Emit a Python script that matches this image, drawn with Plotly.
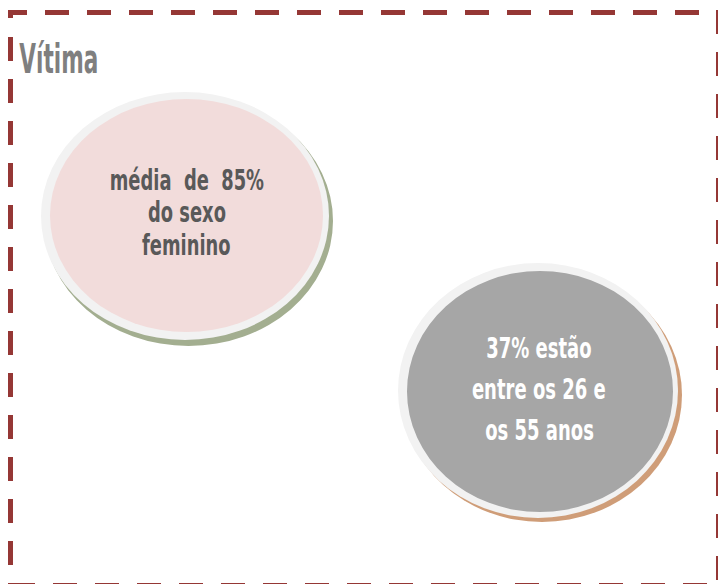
import plotly.graph_objects as go

# ---- content ----
title_text = "Vítima"
bubble1_lines = ["média\u00a0\u00a0de\u00a0\u00a085%", "do sexo", "feminino"]
bubble2_lines = ["37% estão", "entre os 26 e", "os 55 anos"]

# ---- styling ----
W, H = 718, 584
FONT = "Liberation Sans Narrow, DejaVu Sans, sans-serif"
BORDER = "#953735"

fig = go.Figure()

shapes = []


def ellipse(box, color):
    x0, y0, x1, y1 = box
    return dict(type="circle", xref="x", yref="y", x0=x0, y0=y0, x1=x1, y1=y1,
                fillcolor=color, line=dict(width=0), layer="below")


# bubble 1 (pink) : shadow, ring, fill
shapes.append(ellipse((44, 96, 333, 346), "#a3ae90"))
shapes.append(ellipse((41, 92, 329, 340), "#f2f2f2"))
shapes.append(ellipse((50, 99, 323, 332), "#f2dcdb"))
# bubble 2 (gray)
shapes.append(ellipse((402, 268, 682, 522), "#cf9d78"))
shapes.append(ellipse((398, 263, 678, 518), "#f2f2f2"))
shapes.append(ellipse((407, 271, 673, 512), "#a6a6a6"))


def dash_pattern(first_dash, first_gap=18, dash=24, gap=18, n=25):
    parts = [f"{first_dash}px", f"{first_gap}px"]
    for _ in range(n):
        parts += [f"{dash}px", f"{gap}px"]
    return ",".join(parts)


def border_line(x0, y0, x1, y1, pattern):
    return dict(type="line", xref="x", yref="y", x0=x0, y0=y0, x1=x1, y1=y1,
                line=dict(color=BORDER, width=5, dash=pattern), layer="above")


shapes.append(border_line(8, 12.5, 722, 12.5, dash_pattern(19)))       # top
shapes.append(border_line(10.5, 10, 10.5, 590, dash_pattern(8, 19)))   # left
shapes.append(border_line(718.5, 10, 718.5, 590, dash_pattern(24)))    # right
shapes.append(border_line(8, 585.5, 722, 585.5, dash_pattern(27)))     # bottom

annotations = []
s0 = 40
annotations.append(dict(text=title_text, x=10, y=73 - 0.35 * s0, xref="x", yref="y",
                        xanchor="left", yanchor="middle", showarrow=False,
                        font=dict(family=FONT, size=s0, color="#7f7f7f", weight="bold")))

s1, b1, sp1 = 28, 190, 32.5
for i, line in enumerate(bubble1_lines):
    annotations.append(dict(text=line, x=186.5, y=b1 + i * sp1 - 0.35 * s1, xref="x", yref="y",
                            xanchor="center", yanchor="middle", showarrow=False,
                            font=dict(family=FONT, size=s1, color="#595959", weight="bold")))

s2, b2, sp2 = 29, 358, 41
for i, line in enumerate(bubble2_lines):
    annotations.append(dict(text=line, x=539, y=b2 + i * sp2 - 0.35 * s2, xref="x", yref="y",
                            xanchor="center", yanchor="middle", showarrow=False,
                            font=dict(family=FONT, size=s2, color="#ffffff", weight="bold")))

fig.update_layout(
    width=W, height=H, autosize=False,
    margin=dict(l=0, r=0, t=0, b=0, pad=0),
    paper_bgcolor="white", plot_bgcolor="white",
    xaxis=dict(range=[0, W], visible=False, fixedrange=True),
    yaxis=dict(range=[H, 0], visible=False, fixedrange=True),
    shapes=shapes, annotations=annotations, showlegend=False,
)

css = ".annotation-text{font-stretch:condensed !important;transform-box:fill-box;}"
css += ".annotation[data-index=\"0\"] .annotation-text{transform-origin:0% 50%;transform:scaleX(0.6);}"
for k in (1, 2, 3):
    css += f".annotation[data-index=\"{k}\"] .annotation-text{{transform-origin:50% 50%;transform:scaleX(0.71);}}"
for k in (4, 5, 6):
    css += f".annotation[data-index=\"{k}\"] .annotation-text{{transform-origin:50% 50%;transform:scaleX(0.69);}}"

post = (
    "document.body.style.margin='0';"
    "document.body.style.overflow='hidden';"
    "var st=document.createElement('style');"
    f"st.textContent='{css}';"
    "document.head.appendChild(st);"
)
fig.write_html("out.html", config={"displayModeBar": False}, post_script=post)
